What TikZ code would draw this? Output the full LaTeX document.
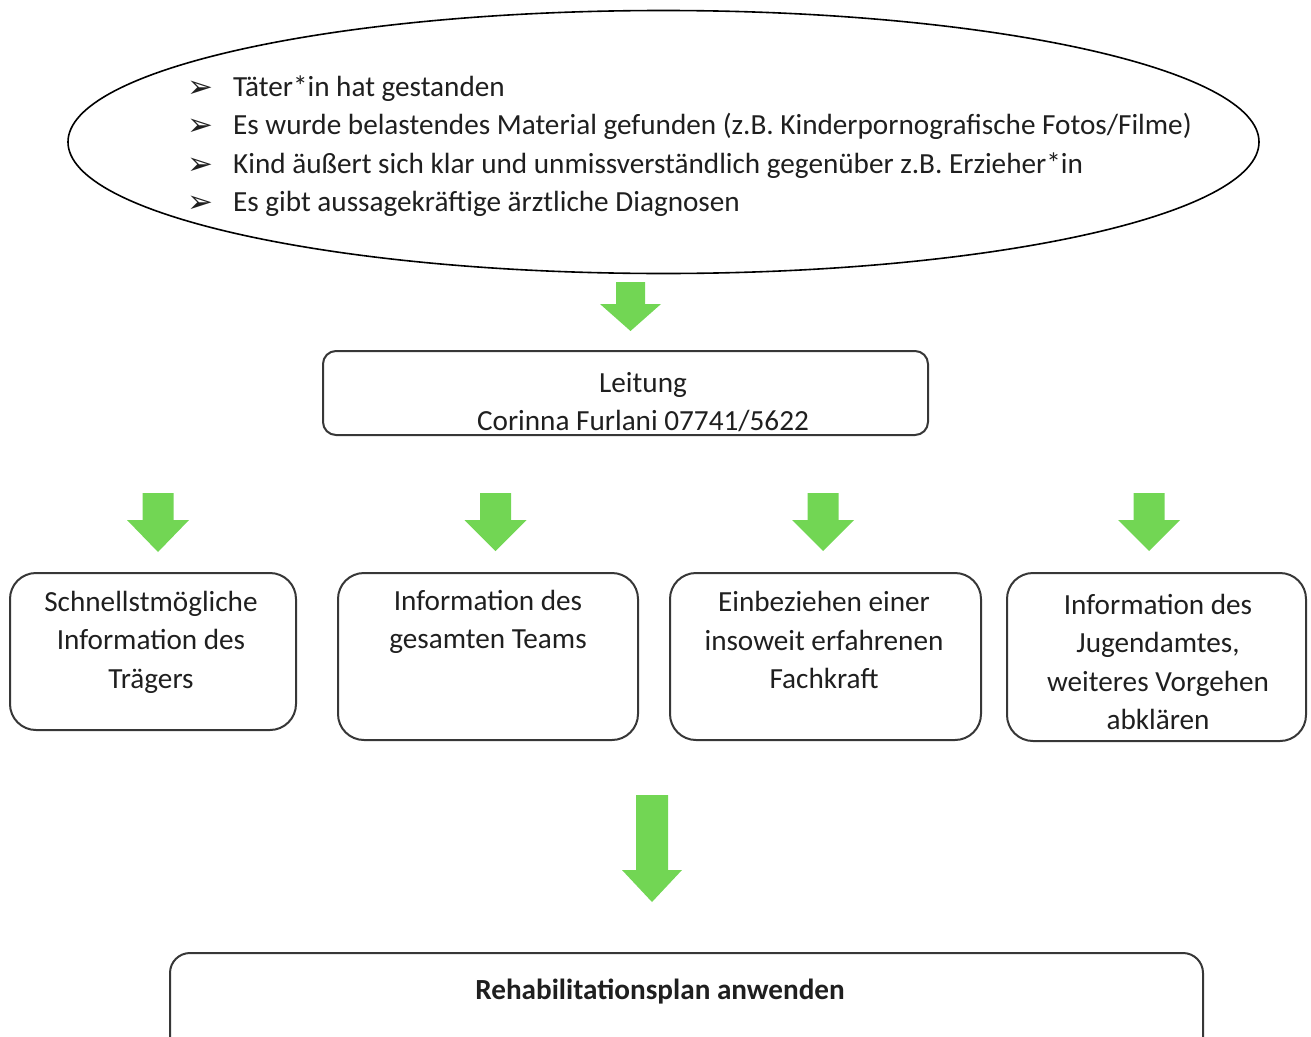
\documentclass[tikz,border=0pt]{standalone}
\usepackage{fontspec}
\setmainfont{Carlito}
\newfontfamily\dejavu{DejaVu Sans}
\usetikzlibrary{shapes.geometric}
\definecolor{arrowgreen}{RGB}{114,214,84}
\definecolor{boxline}{RGB}{55,55,55}
\newcommand{\garrow}[6]{% cx, ytop, yhead, ytip, shaft half, head half
  \fill[arrowgreen] (#1-#5,#2) -- (#1+#5,#2) -- (#1+#5,#3) -- (#1+#6,#3) -- (#1,#4) -- (#1-#6,#3) -- (#1-#5,#3) -- cycle;}
\newcommand{\bul}{\makebox[46pt][l]{\raisebox{-1pt}{\dejavu\bfseries\fontsize{31}{31}\selectfont ➢}}}
\tikzset{
  txt/.style={font=\fontsize{29.2}{38.5}\selectfont, inner sep=0pt, align=center, text=black!88},
  rbox/.style={draw=boxline, line width=2pt, rounded corners=#1},
}
\begin{document}
\begin{tikzpicture}[x=1pt,y=-1pt]
\useasboundingbox (0,0) rectangle (1311,1036);
\clip (0,0) rectangle (1311,1036);
% ellipse
\node[ellipse, draw=black, line width=1.6pt, minimum width=1191pt, minimum height=263pt, inner sep=0pt] (ell) at (663.5,142) {};
\node[txt, align=left, anchor=west] (items) at (187,146) {%
\bul Täter*in hat gestanden\\
\bul Es wurde belastendes Material gefunden (z.B. Kinderpornografische Fotos/Filme)\\
\bul Kind äußert sich klar und unmissverständlich gegenüber z.B. Erzieher*in\\
\bul Es gibt aussagekräftige ärztliche Diagnosen};
% arrow to Leitung
\garrow{630.5}{282}{304}{331}{14.5}{30.5}
% Leitung
\draw[rbox=13pt] (323,351) rectangle (928,435);
\node[txt] (leitung) at (643,402) {Leitung\\Corinna Furlani 07741/5622};
% four arrows
\garrow{158}{493}{520}{552}{15.5}{31}
\garrow{495.5}{493}{520}{551}{15.5}{31}
\garrow{823}{493}{520}{551}{15.5}{31}
\garrow{1149}{493}{520}{551}{15.5}{31}
% four boxes
\draw[rbox=26pt] (10,573) rectangle (296,730);
\node[txt] (b1) at (151,642) {Schnellstmögliche\\Information des\\Trägers};
\draw[rbox=26pt] (338,573) rectangle (638,740);
\node[txt] (b2) at (488,622) {Information des\\gesamten Teams};
\draw[rbox=26pt] (670,573) rectangle (981,740);
\node[txt] (b3) at (824,640) {Einbeziehen einer\\insoweit erfahrenen\\Fachkraft};
\draw[rbox=26pt] (1007,573) rectangle (1306,741);
\node[txt] (b4) at (1158,662) {Information des\\Jugendamtes,\\weiteres Vorgehen\\abklären};
% big arrow
\garrow{652}{795}{870}{902}{16}{30}
% bottom box
\draw[rbox=20pt] (170,953) rectangle (1203,1090);
\node[txt, font=\fontsize{29.2}{38.5}\selectfont\bfseries] (reha) at (660,992) {Rehabilitationsplan anwenden};
\end{tikzpicture}
\end{document}
